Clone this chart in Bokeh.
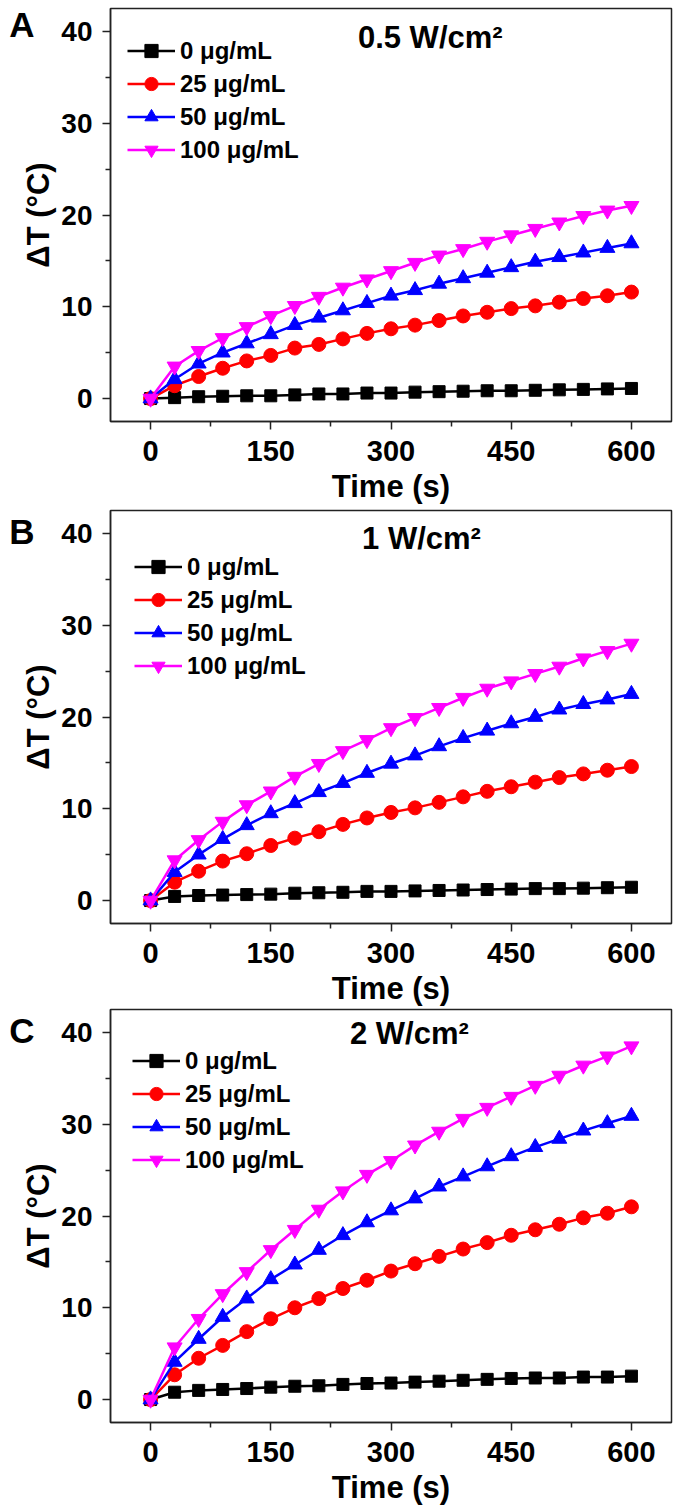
from bokeh.plotting import figure
from bokeh.models import Range1d, FixedTicker, Legend, LegendItem, Label, LinearAxis
from bokeh.layouts import column
from bokeh.embed import file_html
from bokeh.resources import INLINE

# ---------------- data ----------------
time_s = [0, 30, 60, 90, 120, 150, 180, 210, 240, 270, 300,
          330, 360, 390, 420, 450, 480, 510, 540, 570, 600]

conc_labels = ["0 μg/mL", "25 μg/mL", "50 μg/mL", "100 μg/mL"]
panel_letters = ["A", "B", "C"]
panel_titles = ["0.5 W/cm²", "1 W/cm²", "2 W/cm²"]

A_0 = [0, 0.1, 0.2, 0.25, 0.3, 0.3, 0.4, 0.5, 0.5, 0.6, 0.6, 0.7, 0.75, 0.8, 0.85, 0.85, 0.9, 0.95, 1.0, 1.05, 1.1]
A_25 = [0, 1.4, 2.4, 3.3, 4.1, 4.7, 5.5, 5.9, 6.5, 7.1, 7.6, 8.0, 8.5, 9.0, 9.4, 9.8, 10.1, 10.5, 10.9, 11.2, 11.6]
A_50 = [0, 2.1, 3.8, 5.0, 6.0, 7.0, 8.0, 8.8, 9.6, 10.4, 11.2, 11.8, 12.5, 13.1, 13.7, 14.3, 14.9, 15.4, 15.9, 16.4, 16.9]
A_100 = [0, 3.5, 5.2, 6.6, 7.8, 9.0, 10.1, 11.1, 12.1, 13.0, 13.9, 14.8, 15.6, 16.3, 17.1, 17.8, 18.5, 19.2, 19.9, 20.5, 21.0]

B_0 = [0, 0.45, 0.55, 0.6, 0.65, 0.7, 0.8, 0.85, 0.9, 1.0, 1.0, 1.05, 1.1, 1.15, 1.2, 1.25, 1.3, 1.3, 1.35, 1.4, 1.45]
B_25 = [0, 2.0, 3.2, 4.3, 5.1, 6.0, 6.8, 7.5, 8.3, 9.0, 9.6, 10.1, 10.7, 11.3, 11.9, 12.4, 12.9, 13.4, 13.8, 14.2, 14.6]
B_50 = [0, 3.1, 5.0, 6.7, 8.2, 9.5, 10.6, 11.8, 12.8, 13.9, 14.9, 15.8, 16.8, 17.7, 18.5, 19.3, 20.0, 20.8, 21.4, 21.9, 22.5]
B_100 = [0, 4.4, 6.6, 8.6, 10.4, 11.9, 13.5, 14.9, 16.3, 17.5, 18.8, 19.9, 21.0, 22.1, 23.1, 23.9, 24.7, 25.5, 26.4, 27.2, 28.0]

C_0 = [0, 0.8, 1.0, 1.1, 1.2, 1.35, 1.45, 1.5, 1.65, 1.75, 1.8, 1.9, 2.0, 2.1, 2.2, 2.3, 2.35, 2.35, 2.45, 2.45, 2.55]
C_25 = [0, 2.7, 4.5, 5.9, 7.4, 8.8, 10.0, 11.0, 12.1, 13.0, 14.0, 14.8, 15.6, 16.4, 17.1, 17.9, 18.5, 19.1, 19.8, 20.3, 21.0]
C_50 = [0, 4.1, 6.6, 9.0, 11.0, 13.1, 14.7, 16.3, 17.9, 19.3, 20.6, 21.9, 23.2, 24.3, 25.4, 26.5, 27.5, 28.4, 29.3, 30.1, 30.9]
C_100 = [0, 5.7, 8.8, 11.5, 13.9, 16.3, 18.5, 20.7, 22.7, 24.5, 26.0, 27.7, 29.2, 30.6, 31.8, 33.0, 34.2, 35.3, 36.4, 37.4, 38.5]

x_ticks = [0, 150, 300, 450, 600]
x_minor = [75, 225, 375, 525]
y_ticks = [0, 10, 20, 30, 40]
y_minor = [5, 15, 25, 35]

# ---------------- style ----------------
FONT = "Liberation Sans"
colors = ["#000000", "#ff0000", "#0000ff", "#ff00ff"]
markers = ["square", "circle", "triangle", "inverted_triangle"]
msizes = [12, 14, 15, 15]
AX = "#222222"
LETTER_Y = 40.8

panels = [
    dict(data=[A_0, A_25, A_50, A_100], bl=110, br=9, bt=8, bb=88, title_xy=(349, 39.3), leg=(17, 255)),
    dict(data=[B_0, B_25, B_50, B_100], bl=107, br=12, bt=1, bb=84, title_xy=(338, 39.4), leg=(24, 241)),
    dict(data=[C_0, C_25, C_50, C_100], bl=107, br=12, bt=1, bb=89, title_xy=(323, 39.9), leg=(22, 246)),
]


def make_panel(i, cfg):
    p = figure(frame_width=561, frame_height=413,
               min_border_left=cfg["bl"], min_border_right=cfg["br"],
               min_border_top=cfg["bt"], min_border_bottom=cfg["bb"],
               x_range=Range1d(-50, 650), y_range=Range1d(-2.5, 42.5),
               output_backend="svg", toolbar_location=None)
    p.grid.visible = False
    p.background_fill_color = "white"
    p.border_fill_color = "white"
    p.outline_line_color = AX
    p.outline_line_width = 1.5
    p.outline_line_alpha = 1.0

    p.xaxis.ticker = FixedTicker(ticks=x_ticks, minor_ticks=x_minor)
    p.yaxis.ticker = FixedTicker(ticks=y_ticks, minor_ticks=y_minor)
    for ax in (p.xaxis, p.yaxis):
        ax.axis_line_color = AX
        ax.axis_line_width = 1.5
        ax.major_tick_line_color = AX
        ax.major_tick_line_width = 1.5
        ax.minor_tick_line_color = AX
        ax.minor_tick_line_width = 1.5
        ax.major_tick_in = 0
        ax.major_tick_out = 8
        ax.minor_tick_in = 0
        ax.minor_tick_out = 5
        ax.major_label_text_font = FONT
        ax.major_label_text_font_style = "bold"
        ax.major_label_text_color = "black"
        ax.axis_label_text_font = FONT
        ax.axis_label_text_font_style = "bold"
        ax.axis_label_text_color = "black"
    p.xaxis.major_label_text_font_size = "29px"
    p.yaxis.major_label_text_font_size = "28px"
    p.xaxis.axis_label = "Time (s)"
    p.yaxis.axis_label = "ΔT (°C)"
    p.xaxis.axis_label_text_font_size = "31px"
    p.yaxis.axis_label_text_font_size = "31px"
    p.xaxis.major_label_standoff = 11
    p.yaxis.major_label_standoff = 10
    p.xaxis.axis_label_standoff = 5
    p.yaxis.axis_label_standoff = 2

    # panel letter carried by an extra, line-less left axis
    letter_axis = LinearAxis(ticker=FixedTicker(ticks=[LETTER_Y], minor_ticks=[]),
                             major_label_overrides={LETTER_Y: panel_letters[i]},
                             axis_line_color=None, major_tick_line_color=None,
                             minor_tick_line_color=None, major_tick_out=0, major_tick_in=0,
                             major_label_standoff=-16,
                             major_label_text_font=FONT, major_label_text_font_style="bold",
                             major_label_text_font_size="35px", major_label_text_color="black")
    p.add_layout(letter_axis, "left")

    items = []
    for ys, c, m, ms, lab in zip(cfg["data"], colors, markers, msizes, conc_labels):
        lr = p.line(time_s, ys, line_color=c, line_width=2.5)
        sr = p.scatter(time_s, ys, marker=m, size=ms, fill_color=c, line_color=c, line_width=1)
        items.append(LegendItem(label=lab, renderers=[lr, sr]))

    leg = Legend(items=items, location=cfg["leg"], margin=0, padding=0, spacing=0,
                 glyph_width=48, glyph_height=33, label_height=33, label_standoff=5,
                 label_text_font=FONT, label_text_font_style="bold",
                 label_text_font_size="24px", label_text_color="black",
                 background_fill_alpha=0, border_line_color=None)
    p.add_layout(leg, "center")

    tx, ty = cfg["title_xy"]
    p.add_layout(Label(x=tx, y=ty, text=panel_titles[i], text_align="center",
                       text_baseline="alphabetic", text_font=FONT, text_font_style="bold",
                       text_font_size="31px", text_color="black"))
    return p


figs = [make_panel(i, cfg) for i, cfg in enumerate(panels)]
layout = column(*figs, spacing=0)

open("out.html", "w").write(file_html(layout, INLINE))
